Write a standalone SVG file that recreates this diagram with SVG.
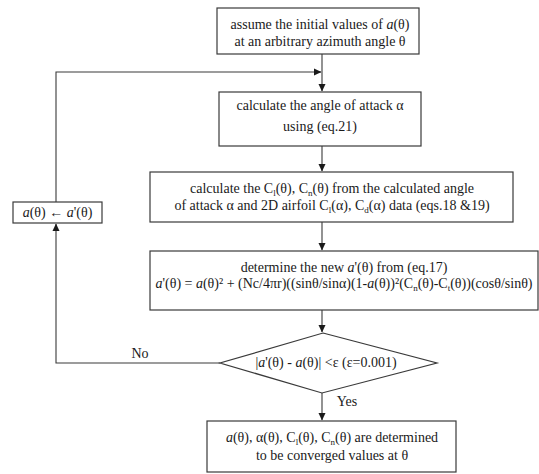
<svg xmlns="http://www.w3.org/2000/svg" width="539" height="474" viewBox="0 0 539 474">
<style>
  .box { fill: #ffffff; stroke: #3a3a3a; stroke-width: 1.2; }
  .ln { fill: none; stroke: #3a3a3a; stroke-width: 1.1; }
  text { font-family: "Liberation Serif", "Times New Roman", serif; font-size: 14px; fill: #1a1a1a; text-anchor: middle; }
  .it { font-style: italic; }
</style>
<defs>
  <marker id="ah" markerWidth="9" markerHeight="9" refX="7" refY="4" orient="auto" markerUnits="userSpaceOnUse">
    <path d="M0,0.5 L7.5,4 L0,7.5 z" fill="#1a1a1a"/>
  </marker>
</defs>
<rect width="539" height="474" fill="#ffffff"/>

<g id="connectors">
  <line class="ln" x1="322" y1="54" x2="322" y2="91" marker-end="url(#ah)"/>
  <polyline class="ln" points="56,202 56,72 321,72" marker-end="url(#ah)"/>
  <line class="ln" x1="322" y1="146" x2="322" y2="171" marker-end="url(#ah)"/>
  <line class="ln" x1="322" y1="222" x2="322" y2="250" marker-end="url(#ah)"/>
  <line class="ln" x1="322" y1="310" x2="322" y2="332" marker-end="url(#ah)"/>
  <polyline class="ln" points="220,363 56,363 56,224" marker-end="url(#ah)"/>
  <line class="ln" x1="322" y1="393" x2="322" y2="420" marker-end="url(#ah)"/>
  <text x="140" y="358">No</text>
  <text x="347" y="406">Yes</text>
</g>

<g id="n1">
  <rect class="box" x="217" y="8" width="202" height="46"/>
  <text x="320" y="28.5">assume the initial values of <tspan class="it">a</tspan>(θ)</text>
  <text x="320" y="45.5">at an arbitrary azimuth angle θ</text>
</g>

<g id="n2">
  <rect class="box" x="219" y="92" width="202" height="54"/>
  <text x="320" y="110">calculate the angle of attack α</text>
  <text x="320" y="131">using (eq.21)</text>
</g>

<g id="n3">
  <rect class="box" x="150" y="172" width="363" height="50"/>
  <text x="332" y="193">calculate the C<tspan font-size="9" dy="3">l</tspan><tspan dy="-3">(θ), C</tspan><tspan font-size="9" dy="3">n</tspan><tspan dy="-3">(θ) from the calculated angle</tspan></text>
  <text x="332" y="210">of attack α and 2D airfoil C<tspan font-size="9" dy="3">l</tspan><tspan dy="-3">(α), C</tspan><tspan font-size="9" dy="3">d</tspan><tspan dy="-3">(α) data (eqs.18 &amp;19)</tspan></text>
</g>

<g id="n4">
  <rect class="box" x="150" y="251" width="388" height="59"/>
  <text x="344" y="272">determine the new <tspan class="it">a</tspan>'(θ) from (eq.17)</text>
  <text x="344" y="288"><tspan class="it">a</tspan>'(θ) = <tspan class="it">a</tspan>(θ)² + (Nc/4πr)((sinθ/sinα)(1-<tspan class="it">a</tspan>(θ))²(C<tspan font-size="9" dy="3">n</tspan><tspan dy="-3">(θ)-C</tspan><tspan font-size="9" dy="3">t</tspan><tspan dy="-3">(θ))(cosθ/sinθ)</tspan></text>
</g>

<g id="n5">
  <polygon class="box" points="323,333 437,363 322,393 220,363"/>
  <text x="326" y="367">|<tspan class="it">a</tspan>'(θ) - <tspan class="it">a</tspan>(θ)| &lt;ε (ε=0.001)</text>
</g>

<g id="n6">
  <rect class="box" x="13" y="202" width="89" height="21"/>
  <text x="57.5" y="217"><tspan class="it">a</tspan>(θ) ← <tspan class="it">a</tspan>'(θ)</text>
</g>

<g id="n7">
  <rect class="box" x="207" y="421" width="249" height="51"/>
  <text x="332" y="442"><tspan class="it">a</tspan>(θ), α(θ), C<tspan font-size="9" dy="3">l</tspan><tspan dy="-3">(θ), C</tspan><tspan font-size="9" dy="3">n</tspan><tspan dy="-3">(θ) are determined</tspan></text>
  <text x="332" y="460">to be converged values at θ</text>
</g>
</svg>
